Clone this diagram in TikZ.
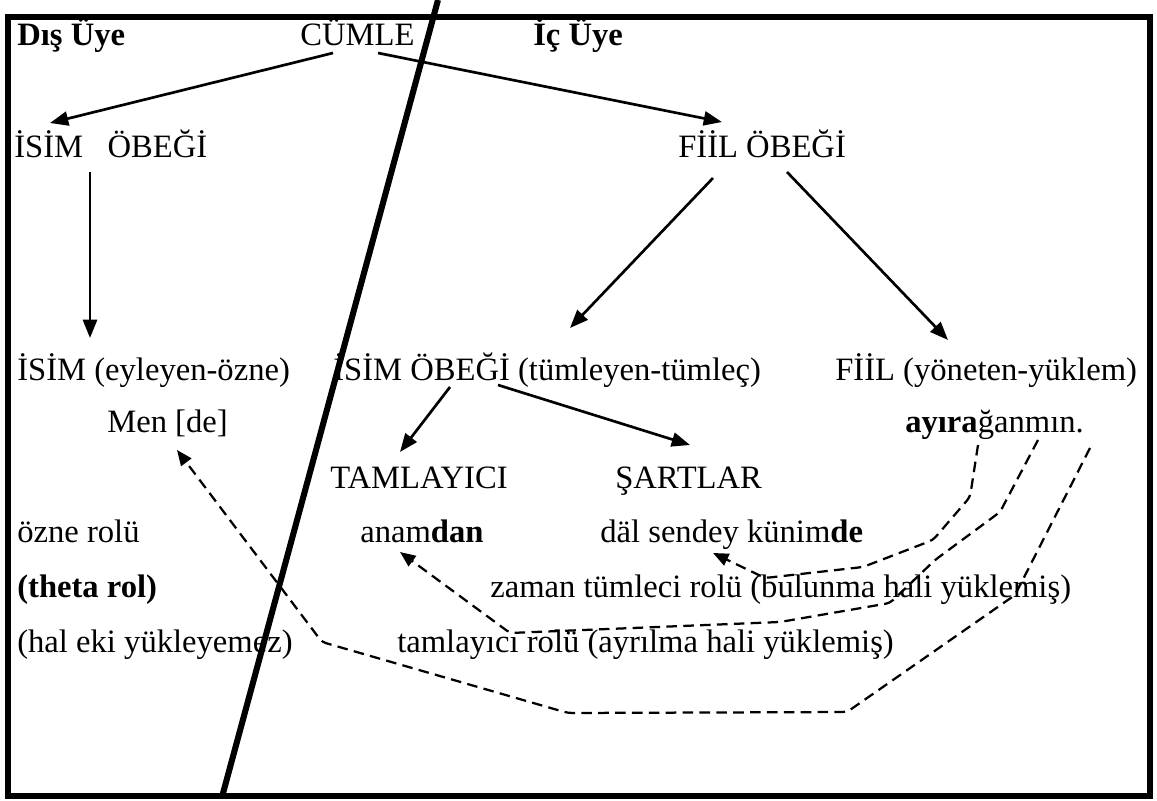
\documentclass[tikz,border=0pt]{standalone}
\usepackage{fontspec}
\setmainfont{Liberation Serif}
\usetikzlibrary{arrows.meta,calc}

\begin{document}
\begin{tikzpicture}[x=0.025cm,y=-0.025cm,
    word/.style={anchor=base west,inner sep=0pt,font=\fontsize{23.2}{28}\selectfont},
    branch/.style={line width=1.9pt,-{Triangle[length=13pt,width=10pt]}},
    role/.style={line width=1.6pt,dash pattern=on 7.5pt off 4.5pt,rounded corners=3pt,
      -{Triangle[length=11pt,width=9pt]}}]
    \useasboundingbox (0,0) rectangle (1157,801);
    \draw[line width=4.3pt] (8,17) rectangle (1150,796);
    \draw[line width=4.3pt] (438,0) -- (222,797);

    \node[word] (dis) at (17,46) {\textbf{Dış Üye}};
    \node[word] (cumle) at (300,46) {CÜMLE};
    \node[word] (ic) at (533,46) {\textbf{İç Üye}};
    \node[word] (isimob) at (14,158) {İSİM\ \ \ ÖBEĞİ};
    \node[word] (fiilob) at (678,158) {FİİL ÖBEĞİ};
    \node[word] (isim) at (17,380) {İSİM (eyleyen-özne)};
    \node[word] (tumlec) at (333,380) {İSİM ÖBEĞİ (tümleyen-tümleç)};
    \node[word] (fiil) at (835,380) {FİİL (yöneten-yüklem)};
    \node[word] (men) at (107,432) {Men [de]};
    \node[word] (ayira) at (905,432) {\textbf{ayıra}ğanmın.};
    \node[word] (tamlayici) at (330,488) {TAMLAYICI};
    \node[word] (sartlar) at (615,488) {ŞARTLAR};
    \node[word] (ozne) at (17,542) {özne rolü};
    \node[word] (anam) at (360,542) {anam\textbf{dan}};
    \node[word] (kun) at (600,542) {däl sendey künim\textbf{de}};
    \node[word] (theta) at (17,597) {\textbf{(theta rol)}};
    \node[word] (zaman) at (490,597) {zaman tümleci rolü (bulunma hali yüklemiş)};
    \node[word] (hal) at (17,652) {(hal eki yükleyemez)};
    \node[word] (tamrol) at (397,652) {tamlayıcı rolü (ayrılma hali yüklemiş)};

    \draw[branch] ($(cumle.base west)+(33,7)$) -- ($(isimob.base west)+(36,-35)$);
    \draw[branch] ($(cumle.base west)+(78,7)$) -- ($(fiilob.base west)+(44,-36)$);
    \draw[branch] ($(isimob.base west)+(76,14)$) -- ($(isim.base west)+(73,-42)$);
    \draw[branch] ($(fiilob.base west)+(35,20)$) -- ($(tumlec.base west)+(237,-52)$);
    \draw[branch] ($(fiilob.base west)+(109,14)$) -- ($(fiil.base west)+(113,-40)$);
    \draw[branch] ($(tumlec.base west)+(117,7)$) -- ($(tamlayici.base west)+(70,-36)$);
    \draw[branch] ($(tumlec.base west)+(165,5)$) -- ($(sartlar.base west)+(75,-43)$);

    \draw[role] ($(ayira.base west)+(73,13)$) -- (970,497) -- (933,540) -- (863,567)
      -- (765,578) -- ($(kun.base west)+(113,11)$);
    \draw[role] ($(ayira.base west)+(133,8)$) -- (1000,512) -- (935,560) -- (890,603)
      -- (780,622) -- (510,633) -- ($(anam.base west)+(40,10)$);
    \draw[role] ($(ayira.base west)+(185,16)$) -- (1015,595) -- (847,712) -- (568,713)
      -- (322,642) -- ($(men.base west)+(70,18)$);
\end{tikzpicture}
\end{document}
